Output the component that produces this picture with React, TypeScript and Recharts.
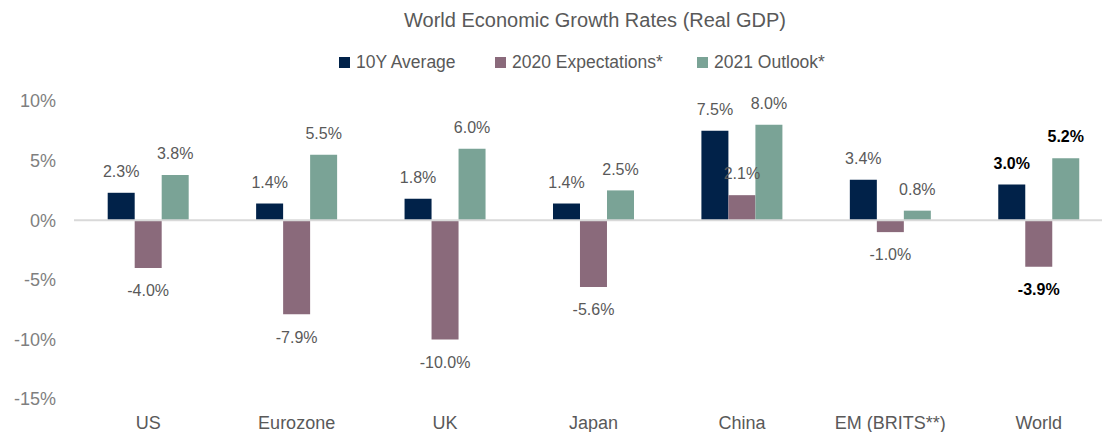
import { Bar, BarChart, LabelList, Legend, ReferenceLine, XAxis, YAxis } from "recharts";

const REGIONS = ["US", "Eurozone", "UK", "Japan", "China", "EM (BRITS**)", "World"];
const AVG_10Y = [2.3, 1.4, 1.8, 1.4, 7.5, 3.4, 3.0];
const EXP_2020 = [-4.0, -7.9, -10.0, -5.6, 2.1, -1.0, -3.9];
const OUTLOOK_2021 = [3.8, 5.5, 6.0, 2.5, 8.0, 0.8, 5.2];
const Y_TICKS = [-15, -10, -5, 0, 5, 10];

const SERIES = [
  { key: "avg", name: "10Y Average", color: "#012249" },
  { key: "exp", name: "2020 Expectations*", color: "#8a6a7b" },
  { key: "out", name: "2021 Outlook*", color: "#7aa396" },
];

const data = REGIONS.map((region, i) => ({
  region,
  avg: AVG_10Y[i],
  exp: EXP_2020[i],
  out: OUTLOOK_2021[i],
}));

const FONT = '"Liberation Sans", Arial, sans-serif';
const LEGEND_X = [339, 495, 697];

function valueLabel(props: any) {
  const { x, y, width, height, value, index } = props;
  const top = Math.min(y, y + height);
  const bottom = Math.max(y, y + height);
  const cy = value >= 0 ? top - 20 : bottom + 24;
  const isWorld = REGIONS[index] === "World";
  return (
    <text
      x={x + width / 2}
      y={cy}
      textAnchor="middle"
      dominantBaseline="middle"
      fontSize={16}
      fontFamily={FONT}
      fontWeight={isWorld ? 700 : 400}
      fill={isWorld ? "#000000" : "#595959"}
    >
      {value.toFixed(1)}%
    </text>
  );
}

function LegendBox({ payload }: any) {
  return (
    <div style={{ position: "relative", height: 0 }}>
      {(payload || []).map((item: any, i: number) => (
        <div
          key={item.value}
          style={{
            position: "absolute",
            left: LEGEND_X[i],
            top: 52,
            display: "flex",
            alignItems: "center",
            fontFamily: FONT,
            fontSize: 17.5,
            color: "#595959",
            whiteSpace: "nowrap",
          }}
        >
          <span style={{ width: 11, height: 11, background: item.color, marginRight: 6, display: "inline-block" }} />
          {item.value}
        </div>
      ))}
    </div>
  );
}

export default function App() {
  return (
    <div style={{ position: "absolute", left: 0, top: 0, width: 1102, height: 432, overflow: "hidden", background: "#fff" }}>
      <div
        style={{
          position: "absolute",
          left: 595,
          top: 9,
          transform: "translateX(-50%)",
          fontFamily: FONT,
          fontSize: 20,
          color: "#595959",
          whiteSpace: "nowrap",
        }}
      >
        World Economic Growth Rates (Real GDP)
      </div>
      <BarChart
        width={1114}
        height={432}
        data={data}
        margin={{ top: 101, right: 1, bottom: 3, left: 0 }}
        barCategoryGap="22.7%"
        barGap={0}
      >
        <XAxis
          dataKey="region"
          axisLine={false}
          tickLine={false}
          height={30}
          tickMargin={11}
          interval={0}
          tick={{ fill: "#595959", fontSize: 18, fontFamily: FONT }}
        />
        <YAxis
          domain={[-15, 10]}
          ticks={Y_TICKS}
          width={74}
          axisLine={false}
          tickLine={false}
          tickSize={0}
          tickMargin={18}
          tickFormatter={(v: number) => `${v}%`}
          tick={{ fill: "#7f7f7f", fontSize: 18, fontFamily: FONT }}
        />
        <ReferenceLine y={0} stroke="#d9d9d9" strokeWidth={2} />
        <Legend verticalAlign="top" content={<LegendBox />} wrapperStyle={{ position: "absolute", left: 0, top: 0, width: 1102 }} />
        {SERIES.map((s) => (
          <Bar key={s.key} dataKey={s.key} name={s.name} fill={s.color} isAnimationActive={false}>
            <LabelList dataKey={s.key} content={valueLabel} />
          </Bar>
        ))}
      </BarChart>
    </div>
  );
}
